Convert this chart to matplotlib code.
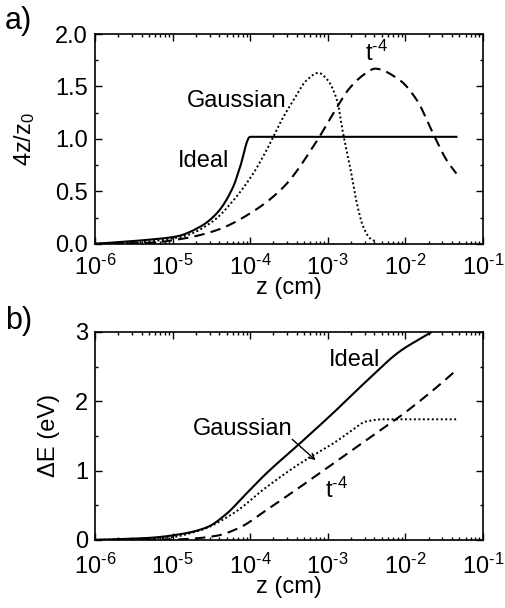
import matplotlib
matplotlib.use("Agg")
import matplotlib.pyplot as plt
import matplotlib.ticker as ticker
import numpy as np

plt.rcParams['font.family'] = ['Liberation Sans', 'DejaVu Sans']
plt.rcParams['mathtext.default'] = 'regular'

# panel a) 4z/z0 vs log10 z (cm)
a_ideal_logz = [-6.0, -5.29, -4.95, -4.65, -4.43, -4.22, -4.13, -4.0, -1.34]
a_ideal_val = [0.0, 0.04, 0.07, 0.16, 0.29, 0.54, 0.73, 1.02, 1.02]

a_gauss_logz = [-6.0, -5.5, -5.1, -4.82, -4.47, -4.22, -3.96, -3.79, -3.57, -3.44, -3.27,
                -3.12, -3.01, -2.88, -2.80, -2.71, -2.63, -2.54, -2.45, -2.37]
a_gauss_val = [0.0, 0.01, 0.04, 0.08, 0.22, 0.41, 0.67, 0.89, 1.21, 1.37, 1.56,
               1.63, 1.57, 1.37, 1.05, 0.73, 0.41, 0.16, 0.05, 0.02]

a_t4_logz = [-6.0, -5.3, -4.86, -4.43, -4.0, -3.57, -3.14, -2.93, -2.71, -2.50, -2.39,
             -2.07, -1.85, -1.64, -1.46, -1.34]
a_t4_val = [0.0, 0.01, 0.05, 0.13, 0.29, 0.54, 0.98, 1.24, 1.49, 1.63, 1.67,
            1.56, 1.37, 1.05, 0.79, 0.67]

# panel b) Delta E (eV) vs log10 z (cm)
b_ideal_logz = [-6.0, -5.29, -4.86, -4.56, -4.30, -4.09, -3.79, -3.36, -2.93, -2.50, -2.07, -1.66, -1.34]
b_ideal_val = [0.0, 0.03, 0.09, 0.18, 0.38, 0.62, 0.96, 1.39, 1.83, 2.29, 2.72, 3.0, 3.25]

b_gauss_logz = [-6.0, -5.5, -5.08, -4.65, -4.22, -3.79, -3.36, -3.14, -2.93, -2.71, -2.50,
                -2.28, -2.07, -1.34]
b_gauss_val = [0.0, 0.01, 0.03, 0.135, 0.38, 0.76, 1.10, 1.25, 1.39, 1.56, 1.71,
               1.74, 1.74, 1.74]

b_t4_logz = [-6.0, -5.3, -4.86, -4.43, -4.13, -3.79, -3.36, -2.93, -2.50, -2.07, -1.64, -1.34]
b_t4_val = [0.0, 0.0, 0.01, 0.06, 0.18, 0.43, 0.76, 1.10, 1.44, 1.78, 2.16, 2.45]

FS = 17
HY = '\u2010'  # short hyphen, as in the original superscripts


def pchip(xk, yk, xs):
    # monotone cubic (Fritsch-Carlson), no overshoot between the read points
    xk = np.asarray(xk, float)
    yk = np.asarray(yk, float)
    h = np.diff(xk)
    d = np.diff(yk) / h
    m = np.zeros_like(yk)
    for i in range(1, len(yk) - 1):
        if d[i - 1] * d[i] > 0:
            w1 = 2 * h[i] + h[i - 1]
            w2 = h[i] + 2 * h[i - 1]
            m[i] = (w1 + w2) / (w1 / d[i - 1] + w2 / d[i])
    m[0] = d[0]
    m[-1] = d[-1]
    idx = np.clip(np.searchsorted(xk, xs) - 1, 0, len(h) - 1)
    t = (xs - xk[idx]) / h[idx]
    h00 = 2 * t**3 - 3 * t**2 + 1
    h10 = t**3 - 2 * t**2 + t
    h01 = -2 * t**3 + 3 * t**2
    h11 = t**3 - t**2
    return h00 * yk[idx] + h10 * h[idx] * m[idx] + h01 * yk[idx + 1] + h11 * h[idx] * m[idx + 1]


def smooth(logz, val):
    xs = np.linspace(logz[0], logz[-1], 600)
    return 10 ** xs, pchip(logz, val, xs)


def decade_label(v, pos):
    e = int(round(np.log10(v)))
    return '$10^{' + HY + str(-e) + '}$'


def style_axes(ax, xpad):
    ax.set_xscale('log')
    ax.set_xlim(1e-6, 1e-1)
    ax.xaxis.set_major_locator(ticker.LogLocator(base=10, numticks=10))
    ax.xaxis.set_minor_locator(ticker.LogLocator(base=10, subs=np.arange(2, 10), numticks=20))
    ax.xaxis.set_major_formatter(ticker.FuncFormatter(decade_label))
    ax.xaxis.set_minor_formatter(ticker.NullFormatter())
    ax.tick_params(which='both', direction='in', top=True, right=True, labelsize=FS, width=1)
    ax.tick_params(which='major', length=5, pad=5)
    ax.tick_params(axis='x', which='major', pad=xpad)
    ax.tick_params(which='minor', length=2.5)
    for s in ax.spines.values():
        s.set_linewidth(1.2)
    ax.set_xlabel('z (cm)', fontsize=FS, labelpad=-2)


fig = plt.figure(figsize=(5.05, 6.08), dpi=100)
ax1 = fig.add_axes([0.188, 0.599, 0.768, 0.345])
ax2 = fig.add_axes([0.188, 0.112, 0.768, 0.342])

x, y = smooth(a_ideal_logz, a_ideal_val)
ax1.plot(x, y, color='black', lw=1.5, ls='-')
x, y = smooth(a_gauss_logz, a_gauss_val)
ax1.plot(x, y, color='black', lw=1.4, ls=(0, (1, 1.3)))
x, y = smooth(a_t4_logz, a_t4_val)
ax1.plot(x, y, color='black', lw=1.5, ls=(0, (5, 3)))
style_axes(ax1, 8)
ax1.set_ylim(0, 2.0)
ax1.yaxis.set_major_locator(ticker.MultipleLocator(0.5))
ax1.yaxis.set_minor_locator(ticker.MultipleLocator(0.25))
ax1.yaxis.set_major_formatter(ticker.FormatStrFormatter('%.1f'))
ax1.set_ylabel('4z/z$_0$', fontsize=FS)
ax1.yaxis.set_label_coords(-0.15, 0.5)
ax1.text(6.7e-5, 1.36, 'Gaussian', fontsize=FS, ha='center', va='center')
ax1.text(2.5e-5, 0.79, 'Ideal', fontsize=FS, ha='center', va='center')
ax1.text(4.3e-3, 1.82, 't$^{' + HY + '4}$', fontsize=FS, ha='center', va='center')
fig.text(0.01, 0.965, 'a)', fontsize=22, ha='left', va='center')

x, y = smooth(b_ideal_logz, b_ideal_val)
ax2.plot(x, y, color='black', lw=1.5, ls='-')
x, y = smooth(b_gauss_logz, b_gauss_val)
ax2.plot(x, y, color='black', lw=1.4, ls=(0, (1, 1.3)))
x, y = smooth(b_t4_logz, b_t4_val)
ax2.plot(x, y, color='black', lw=1.5, ls=(0, (5, 3)))
style_axes(ax2, 10)
ax2.set_ylim(0, 3.0)
ax2.yaxis.set_major_locator(ticker.MultipleLocator(1))
ax2.yaxis.set_minor_locator(ticker.MultipleLocator(0.5))
ax2.set_ylabel('ΔE (eV)', fontsize=FS)
ax2.yaxis.set_label_coords(-0.09, 0.5)
ax2.text(2.2e-3, 2.6, 'Ideal', fontsize=FS, ha='center', va='center')
ax2.text(8.0e-5, 1.6, 'Gaussian', fontsize=FS, ha='center', va='center')
ax2.annotate('', xy=(7.0e-4, 1.15), xytext=(3.5e-4, 1.45),
             arrowprops=dict(arrowstyle='->', color='black', lw=1,
                             shrinkA=0, shrinkB=0))
ax2.text(1.3e-3, 0.72, 't$^{' + HY + '4}$', fontsize=FS, ha='center', va='center')
fig.text(0.01, 0.472, 'b)', fontsize=22, ha='left', va='center')

fig.savefig('out.png', dpi=100)
